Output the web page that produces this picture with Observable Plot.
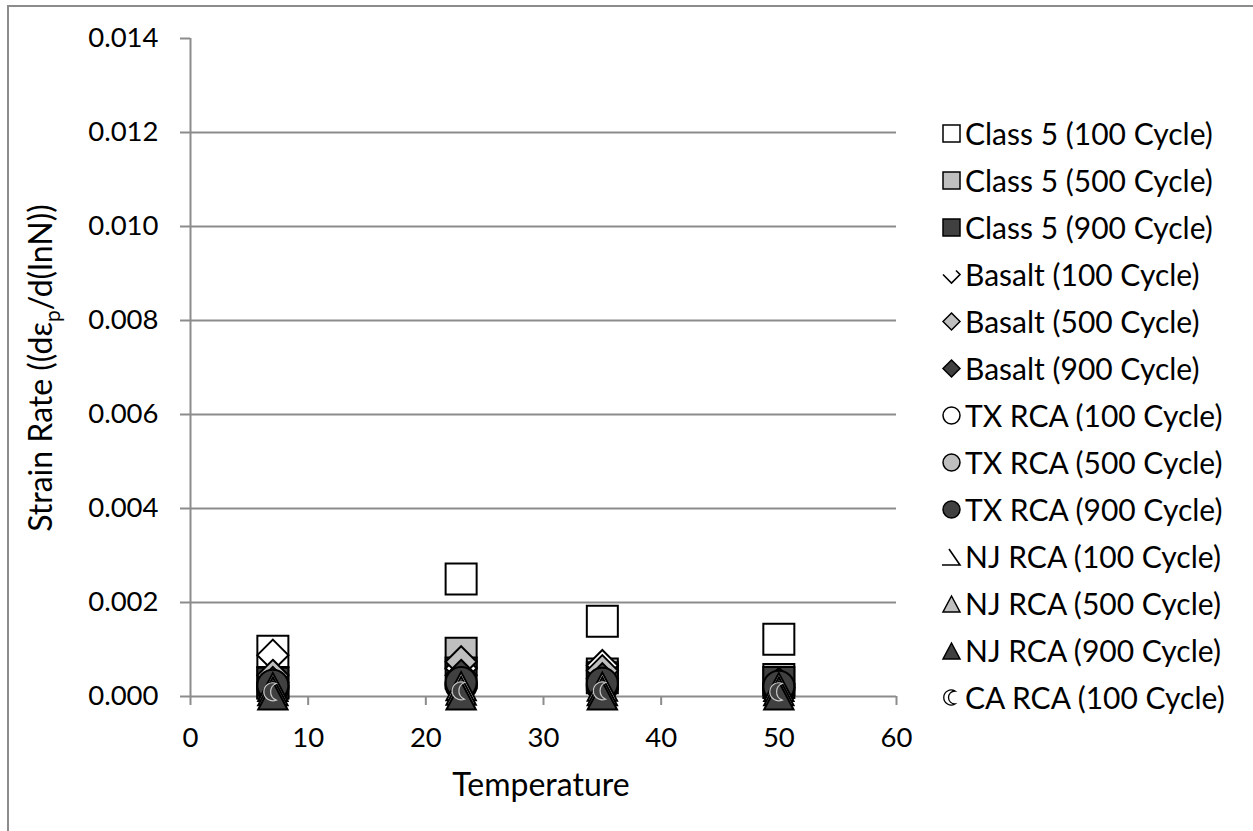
<!DOCTYPE html>
<html>
<head>
<meta charset="utf-8">
<script src="https://cdn.jsdelivr.net/npm/d3@7"></script>
<script src="https://cdn.jsdelivr.net/npm/@observablehq/plot@0.6"></script>
<style>
  html, body { margin: 0; padding: 0; background: #fff; overflow: hidden; }
  #wrap { position: relative; width: 1253px; height: 831px; font-family: Lato, "Open Sans", sans-serif; }
  #frame { position: absolute; left: 7px; top: 5px; width: 1300px; height: 900px; border: 2px solid #8c8c8c; box-sizing: border-box; pointer-events: none; }
  #chart { position: absolute; left: 0; top: 0; }
  #legend { position: absolute; left: 941px; top: 0; }
  .row { position: absolute; left: 0; height: 36px; display: flex; align-items: center; white-space: nowrap; font-size: 30px; color: #000; }
  .row svg { margin-right: 3px; }
</style>
</head>
<body>
<div id="wrap">
  <div id="chart"></div>
  <div id="legend"></div>
  <div id="frame"></div>
</div>
<script>
// ---- data ----
const temperatures = [7, 23, 35, 50];
const seriesNames = [
  "Class 5 (100 Cycle)", "Class 5 (500 Cycle)", "Class 5 (900 Cycle)",
  "Basalt (100 Cycle)", "Basalt (500 Cycle)", "Basalt (900 Cycle)",
  "TX RCA (100 Cycle)", "TX RCA (500 Cycle)", "TX RCA (900 Cycle)",
  "NJ RCA (100 Cycle)", "NJ RCA (500 Cycle)", "NJ RCA (900 Cycle)",
  "CA RCA (100 Cycle)"
];
const class5_100 = [0.00096, 0.00250, 0.00160, 0.00122];
const class5_500 = [0.00030, 0.00092, 0.00048, 0.00036];
const class5_900 = [0.00028, 0.00050, 0.00040, 0.00030];
const basalt_100 = [0.00088, 0.00060, 0.00066, 0.00028];
const basalt_500 = [0.00045, 0.00074, 0.00055, 0.00025];
const basalt_900 = [0.00030, 0.00045, 0.00038, 0.00020];
const txrca_100  = [0.00018, 0.00024, 0.00022, 0.00016];
const txrca_500  = [0.00020, 0.00026, 0.00025, 0.00018];
const txrca_900  = [0.00024, 0.00030, 0.00028, 0.00022];
const njrca_100  = [0.00020, 0.00022, 0.00021, 0.00020];
const njrca_500  = [0.00011, 0.00012, 0.00011, 0.00011];
const njrca_900  = [0.00002, 0.00002, 0.00002, 0.00002];
const carca_100  = [0.00010, 0.00012, 0.00012, 0.00010];
const seriesValues = [class5_100, class5_500, class5_900, basalt_100, basalt_500, basalt_900,
  txrca_100, txrca_500, txrca_900, njrca_100, njrca_500, njrca_900, carca_100];
const yTicks = [0, 0.002, 0.004, 0.006, 0.008, 0.010, 0.012, 0.014];
const xTicks = [0, 10, 20, 30, 40, 50, 60];

// ---- styles ----
const WHITE = "#ffffff", GRAY = "#bfbfbf", DARK = "#404040";
const crescent = {
  draw(ctx, size) {
    const R = Math.sqrt(size / Math.PI);
    const d = R * 0.75;
    const h = Math.sqrt(R * R - d * d / 4);
    const a = Math.atan2(h, d / 2);
    ctx.moveTo(d / 2, -h);
    ctx.arc(0, 0, R, -a, a, true);
    const b = Math.atan2(h, -d / 2);
    ctx.arc(d, 0, R, b, -b + 2 * Math.PI, false);
    ctx.closePath();
  }
};
// triangle centred on its bounding box (as spreadsheet markers are)
const boxTriangle = {
  draw(ctx, size) {
    const s = Math.sqrt(size / Math.PI);
    ctx.moveTo(0, -s);
    ctx.lineTo(s * 1.05, s);
    ctx.lineTo(-s * 1.05, s);
    ctx.closePath();
  }
};
const styles = [
  {symbol: "square", r: 17.5, fill: WHITE},
  {symbol: "square", r: 17.5, fill: GRAY},
  {symbol: "square", r: 17.5, fill: DARK},
  {symbol: "diamond2", r: 14, fill: WHITE},
  {symbol: "diamond2", r: 14, fill: GRAY},
  {symbol: "diamond2", r: 14, fill: DARK},
  {symbol: "circle", r: 15.5, fill: WHITE},
  {symbol: "circle", r: 15.5, fill: GRAY},
  {symbol: "circle", r: 15.5, fill: DARK},
  {symbol: boxTriangle, r: 14, fill: WHITE},
  {symbol: boxTriangle, r: 14, fill: GRAY},
  {symbol: boxTriangle, r: 14, fill: DARK},
  {symbol: crescent, r: 9, fill: DARK, stroke: "#c8c8c8", strokeWidth: 1.2}
];

const rows = [];
seriesNames.forEach((name, i) => {
  temperatures.forEach((t, j) => rows.push({series: name, idx: i, temp: t, rate: seriesValues[i][j]}));
});

const W = 1253, H = 831;
const marks = [
  Plot.gridY(yTicks.filter(v => v > 0 && v < 0.014), {stroke: "#8c8c8c", strokeOpacity: 1, strokeWidth: 2}),
  Plot.axisY({ticks: yTicks, tickFormat: d3.format(".3f"), tickSize: 10, tickPadding: 22, fontSize: 27.5, stroke: "#8c8c8c", strokeWidth: 2, label: null}),
  Plot.axisX({ticks: xTicks, tickSize: 9, tickPadding: 22, fontSize: 27.5, stroke: "#8c8c8c", strokeWidth: 2, label: null}),
  Plot.ruleX([0], {stroke: "#8c8c8c", strokeWidth: 2}),
  Plot.ruleY([0], {stroke: "#8c8c8c", strokeWidth: 2})
];
styles.forEach((s, i) => {
  marks.push(Plot.dot(rows.filter(d => d.idx === i), {
    x: "temp", y: "rate", symbol: () => s.symbol, r: s.r, fill: s.fill,
    stroke: s.stroke || "#000", strokeWidth: s.strokeWidth || 2
  }));
});

const plot = Plot.plot({
  width: W, height: H,
  marginLeft: 190, marginRight: W - 896, marginTop: 38, marginBottom: H - 696,
  style: {fontFamily: "Lato, 'Open Sans', sans-serif", color: "#000", background: "transparent", overflow: "visible"},
  x: {domain: [0, 60], axis: null},
  y: {domain: [0, 0.014], axis: null},
  symbol: {type: "identity"},
  marks
});
document.getElementById("chart").appendChild(plot);

// Axis titles
const svg = d3.select(plot);
svg.append("text")
  .attr("x", 541).attr("y", 796)
  .attr("text-anchor", "middle")
  .attr("font-size", 32).attr("fill", "#000")
  .text("Temperature");
const yt = svg.append("text")
  .attr("transform", "translate(52,368) rotate(-90)")
  .attr("text-anchor", "middle")
  .attr("font-size", 32).attr("fill", "#000");
yt.append("tspan").text("Strain Rate ((dε");
yt.append("tspan").attr("dy", 8).attr("font-size", 21).text("p");
yt.append("tspan").attr("dy", -8).text("/d(lnN))");

// Legend
const legend = document.getElementById("legend");
const legendSymbols = [
  `<rect x="2" y="2" width="17" height="17" fill="${WHITE}" stroke="#000" stroke-width="1.5"/>`,
  `<rect x="2" y="2" width="17" height="17" fill="${GRAY}" stroke="#000" stroke-width="1.5"/>`,
  `<rect x="2" y="2" width="17" height="17" fill="${DARK}" stroke="#000" stroke-width="1.5"/>`,
  `<path d="M2,10.5 L10.5,19 L19,10.5 L15,6.5" fill="none" stroke="#000" stroke-width="1.6"/>`,
  `<path d="M10.5,2 L19,10.5 L10.5,19 L2,10.5 Z" fill="${GRAY}" stroke="#000" stroke-width="1.5"/>`,
  `<path d="M10.5,2 L19,10.5 L10.5,19 L2,10.5 Z" fill="${DARK}" stroke="#000" stroke-width="1.5"/>`,
  `<circle cx="10.5" cy="10.5" r="8.5" fill="${WHITE}" stroke="#000" stroke-width="1.5"/>`,
  `<circle cx="10.5" cy="10.5" r="8.5" fill="${GRAY}" stroke="#000" stroke-width="1.5"/>`,
  `<circle cx="10.5" cy="10.5" r="8.5" fill="${DARK}" stroke="#000" stroke-width="1.5"/>`,
  `<path d="M8,3 L19,19 L1,19" fill="none" stroke="#000" stroke-width="1.6"/>`,
  `<path d="M10.5,3 L19,19 L2,19 Z" fill="${GRAY}" stroke="#000" stroke-width="1.5"/>`,
  `<path d="M10.5,3 L19,19 L2,19 Z" fill="${DARK}" stroke="#000" stroke-width="1.5"/>`,
  `<path d="M14,4 A7.5,7.5 0 1 0 14,17 A6.5,6.5 0 0 1 14,4 Z" fill="${WHITE}" stroke="#000" stroke-width="1.3"/>`
];
seriesNames.forEach((name, i) => {
  const row = document.createElement("div");
  row.className = "row";
  row.style.top = (133 + 47 * i - 18) + "px";
  row.innerHTML = `<svg width="21" height="21" viewBox="0 0 21 21">${legendSymbols[i]}</svg><span>${name}</span>`;
  legend.appendChild(row);
});
</script>
</body>
</html>
